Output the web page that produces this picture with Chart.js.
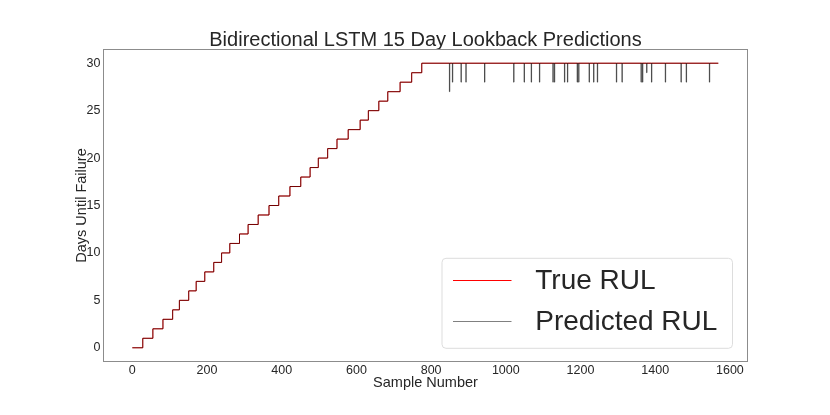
<!DOCTYPE html>
<html>
<head>
<meta charset="utf-8">
<script src="https://cdn.jsdelivr.net/npm/chart.js@4.4.1/dist/chart.umd.min.js"></script>
<style>
  html, body { margin: 0; padding: 0; background: #ffffff; }
  #wrap { width: 830px; height: 415px; position: relative; }
</style>
</head>
<body>
<div id="wrap"><canvas id="c"></canvas></div>
<script>
// ---- data ----
const titleText = 'Bidirectional LSTM 15 Day Lookback Predictions';
const xAxisLabel = 'Sample Number';
const yAxisLabel = 'Days Until Failure';
const seriesLabels = ['True RUL', 'Predicted RUL'];

// sample index where each RUL step begins, and the step value
const stepStartX = [0, 28, 55, 82, 108, 126, 151, 171, 194, 218, 239, 261, 287, 310, 337, 366,
                    392, 422, 451, 476, 498, 523, 548, 578, 610, 632, 660, 684, 717, 748, 775];
const stepValues = [0, 1, 2, 3, 4, 5, 6, 7, 8, 9, 10, 11, 12, 13, 14, 15,
                    16, 17, 18, 19, 20, 21, 22, 23, 24, 25, 26, 27, 28, 29, 30];
const lastSample = 1569;
const lastValue = 30;

// single-sample dips of the prediction on the plateau
const spikeSamples = [849, 857, 880, 893, 943, 1021, 1049, 1068, 1090, 1126, 1130, 1157, 1165,
                      1191, 1195, 1223, 1235, 1245, 1296, 1311, 1362, 1366, 1377, 1390, 1427,
                      1469, 1483, 1545];
const spikeValues  = [27.0, 28.0, 28.0, 28.0, 28.0, 28.0, 28.0, 28.0, 28.0, 28.0, 28.0, 28.0, 28.0,
                      28.0, 28.0, 28.0, 28.0, 28.0, 28.0, 28.0, 28.0, 28.0, 29.0, 28.0, 28.0,
                      28.0, 28.0, 28.0];

const xTicks = [0, 200, 400, 600, 800, 1000, 1200, 1400, 1600];
const yTicks = [0, 5, 10, 15, 20, 25, 30];
const xRange = [-78.5, 1648.5];
const yRange = [-1.5, 31.5];

// ---- build datasets ----
const truePoints = stepStartX.map((x, i) => ({ x: x, y: stepValues[i] }));
truePoints.push({ x: lastSample, y: lastValue });

const predPoints = truePoints.map(p => ({ x: p.x, y: p.y }));
spikeSamples.forEach((s, i) => {
  predPoints.push({ x: s, y: spikeValues[i] });
  predPoints.push({ x: s + 1, y: lastValue });
});
predPoints.sort((a, b) => a.x - b.x);

const FONT = "'Liberation Sans', Arial, sans-serif";
const TXT = '#262626';

const frameAndLegend = {
  id: 'frameAndLegend',
  afterDatasetsDraw(chart) {
    const { ctx, chartArea: a } = chart;
    ctx.save();
    // axes frame
    ctx.strokeStyle = '#8c8c8c';
    ctx.lineWidth = 1;
    ctx.strokeRect(Math.round(a.left) + 0.5, Math.round(a.top) + 0.5,
                   Math.round(a.right - a.left) - 1, Math.round(a.bottom - a.top) - 1);
    // legend box
    const w = 290.5, h = 90;
    const bx = a.right - 15.5 - w, by = a.bottom - 13.7 - h;
    const r = 4;
    ctx.beginPath();
    ctx.moveTo(bx + r, by);
    ctx.lineTo(bx + w - r, by);
    ctx.quadraticCurveTo(bx + w, by, bx + w, by + r);
    ctx.lineTo(bx + w, by + h - r);
    ctx.quadraticCurveTo(bx + w, by + h, bx + w - r, by + h);
    ctx.lineTo(bx + r, by + h);
    ctx.quadraticCurveTo(bx, by + h, bx, by + h - r);
    ctx.lineTo(bx, by + r);
    ctx.quadraticCurveTo(bx, by, bx + r, by);
    ctx.closePath();
    ctx.fillStyle = 'rgba(255,255,255,0.8)';
    ctx.fill();
    ctx.strokeStyle = '#dddddd';
    ctx.lineWidth = 1;
    ctx.stroke();
    const rows = [
      { y: by + 21.7, color: '#ff0000', label: chart.data.datasets[1].label },
      { y: by + 62.7, color: '#808080', label: chart.data.datasets[0].label }
    ];
    ctx.font = "28px " + FONT;
    ctx.textBaseline = 'middle';
    ctx.textAlign = 'left';
    rows.forEach(rw => {
      ctx.beginPath();
      ctx.strokeStyle = rw.color;
      ctx.lineWidth = 1;
      ctx.moveTo(bx + 11, Math.round(rw.y) + 0.5);
      ctx.lineTo(bx + 69.5, Math.round(rw.y) + 0.5);
      ctx.stroke();
      ctx.fillStyle = TXT;
      ctx.fillText(rw.label, bx + 93.3, rw.y + 1);
    });
    ctx.restore();
  }
};

new Chart(document.getElementById('c'), {
  type: 'line',
  data: {
    datasets: [
      {
        label: seriesLabels[1],
        data: predPoints,
        borderColor: 'rgba(0,0,0,0.55)',
        borderWidth: 1,
        pointRadius: 0,
        stepped: true,
        fill: false,
        order: 0
      },
      {
        label: seriesLabels[0],
        data: truePoints,
        borderColor: '#ff0000',
        borderWidth: 1,
        pointRadius: 0,
        stepped: true,
        fill: false,
        order: 1
      }
    ]
  },
  options: {
    responsive: true,
    maintainAspectRatio: false,
    animation: false,
    layout: { padding: { left: 0, right: 82, top: 0, bottom: 0 } },
    plugins: {
      legend: { display: false },
      tooltip: { enabled: false },
      title: {
        display: true,
        text: titleText,
        fullSize: false,
        color: TXT,
        font: { family: FONT, size: 20, weight: 'normal', lineHeight: 0.85 },
        padding: { top: 32, bottom: 0 }
      }
    },
    scales: {
      x: {
        type: 'linear',
        min: xRange[0],
        max: xRange[1],
        grid: { display: false, drawTicks: false },
        border: { display: false },
        afterBuildTicks: s => { s.ticks = xTicks.map(v => ({ value: v })); },
        afterFit: s => { s.height = 53; },
        ticks: {
          color: TXT,
          font: { family: FONT, size: 12.5 },
          padding: 1,
          maxRotation: 0,
          autoSkip: false,
          callback: v => String(v)
        },
        title: {
          display: true,
          text: xAxisLabel,
          color: TXT,
          font: { family: FONT, size: 14.5 },
          padding: { top: 0, bottom: 23.3 }
        }
      },
      y: {
        type: 'linear',
        min: yRange[0],
        max: yRange[1],
        grid: { display: false, drawTicks: false },
        border: { display: false },
        afterBuildTicks: s => { s.ticks = yTicks.map(v => ({ value: v })); },
        afterFit: s => { s.width = 103; },
        ticks: {
          color: TXT,
          font: { family: FONT, size: 12.5 },
          padding: 2.5,
          callback: v => String(v)
        },
        title: {
          display: true,
          text: yAxisLabel,
          color: TXT,
          font: { family: FONT, size: 14.5 },
          padding: { top: 73, bottom: 0 }
        }
      }
    }
  },
  plugins: [frameAndLegend]
});
</script>
</body>
</html>
